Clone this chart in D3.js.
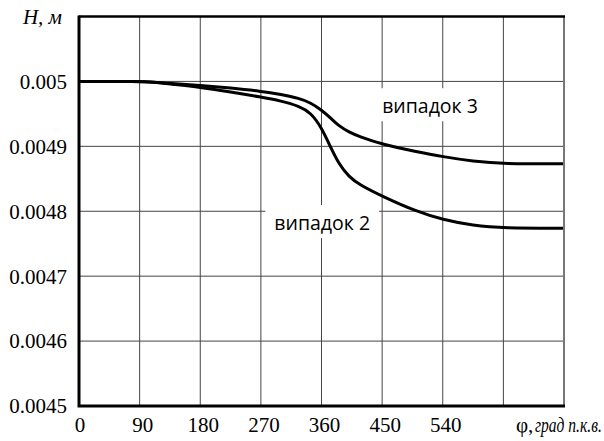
<html>
    <head>
        <style>
            body { margin: 0; background: white; }
            .tick-label { font-family: "Liberation Serif", "Times New Roman", serif; font-size: 21px; fill: black; }
            .case-label { font-family: "Open Sans"; font-size: 19.5px; fill: black; }
        </style>
        <script src="https://d3js.org/d3.v7.min.js"></script>
    </head>
    <body>
        <svg width="604" height="441"></svg>
        <script>
            // crank angle, deg
            let phi = [0, 90, 110, 135, 180, 225, 270, 300, 327, 344, 360, 372, 386, 401, 416, 450, 500, 540, 585, 630, 720]
            // H, m
            let case3 = [0.005, 0.005, 0.004999, 0.004997, 0.004994, 0.00499, 0.004985, 0.00498, 0.004974, 0.004967, 0.004956, 0.004945, 0.004931, 0.004922, 0.004915, 0.004903, 0.004892, 0.004884, 0.004877, 0.004873, 0.004873]
            let case2 = [0.005, 0.005, 0.004999, 0.004996, 0.004991, 0.004984, 0.004976, 0.00497, 0.004962, 0.004952, 0.004929, 0.004902, 0.004872, 0.004853, 0.004841, 0.004823, 0.0048, 0.004787, 0.004778, 0.004774, 0.004774]

            let xTicks = [0, 90, 180, 270, 360, 450, 540, 630, 720]
            let xLabels = ["0", "90", "180", "270", "360", "450", "540"]
            let yTicks = [0.0045, 0.0046, 0.0047, 0.0048, 0.0049, 0.005, 0.0051]
            let yLabels = ["0.0045", "0.0046", "0.0047", "0.0048", "0.0049", "0.005"]

            let svg = d3.select("svg")

            let xScale = d3.scaleLinear().domain([0, 720]).range([79, 564]),
                yScale = d3.scaleLinear().domain([0.0045, 0.0051]).range([406, 16.5])

            // grid
            svg.append("g").selectAll("line")
                .data(xTicks.slice(1, -1))
                .enter().append("line")
                .attr("x1", d => xScale(d)).attr("x2", d => xScale(d))
                .attr("y1", yScale(0.0051)).attr("y2", yScale(0.0045))
                .attr("stroke", "#444").attr("stroke-width", 1)

            svg.append("g").selectAll("line")
                .data(yTicks.slice(1, -1))
                .enter().append("line")
                .attr("x1", xScale(0)).attr("x2", xScale(720))
                .attr("y1", d => yScale(d)).attr("y2", d => yScale(d))
                .attr("stroke", "#444").attr("stroke-width", 1)

            // curve labels on white patches
            let labels = [
                {text: "випадок 3", phi: 450, h: 0.004951},
                {text: "випадок 2", phi: 290, h: 0.004771}
            ]
            labels.forEach(function(l) {
                let g = svg.append("g")
                let t = g.append("text")
                    .attr("class", "case-label")
                    .attr("x", xScale(l.phi))
                    .attr("y", yScale(l.h))
                    .text(l.text)
                let b = t.node().getBBox()
                g.insert("rect", "text")
                    .attr("x", b.x - 9).attr("y", b.y - 4)
                    .attr("width", b.width + 18).attr("height", b.height + 6)
                    .attr("fill", "white")
            })

            // curves
            let line = d3.line()
                .x((d, i) => xScale(phi[i]))
                .y(d => yScale(d))
                .curve(d3.curveBasis)

            svg.append("path").datum(case3)
                .attr("d", line).attr("fill", "none")
                .attr("stroke", "black").attr("stroke-width", 3)
            svg.append("path").datum(case2)
                .attr("d", line).attr("fill", "none")
                .attr("stroke", "black").attr("stroke-width", 3)

            // frame
            svg.append("line")
                .attr("x1", xScale(720)).attr("x2", xScale(720))
                .attr("y1", yScale(0.0051)).attr("y2", yScale(0.0045))
                .attr("stroke", "#777").attr("stroke-width", 2)
            svg.append("line")
                .attr("x1", xScale(0)).attr("x2", xScale(720) + 1)
                .attr("y1", yScale(0.0051)).attr("y2", yScale(0.0051))
                .attr("stroke", "black").attr("stroke-width", 2.5)
            svg.append("path")
                .attr("d", "M" + xScale(0) + "," + (yScale(0.0051) - 1) + "V" + yScale(0.0045) + "H" + (xScale(720) + 1))
                .attr("fill", "none").attr("stroke", "black").attr("stroke-width", 3)

            // tick labels
            svg.append("g").selectAll("text")
                .data(yLabels)
                .enter().append("text")
                .attr("class", "tick-label")
                .attr("x", 67)
                .attr("y", d => yScale(+d))
                .attr("dy", "0.35em")
                .attr("text-anchor", "end")
                .text(d => d)

            svg.append("g").selectAll("text")
                .data(xLabels)
                .enter().append("text")
                .attr("class", "tick-label")
                .attr("x", d => xScale(+d) + (d == "0" ? 1 : 3))
                .attr("y", 432)
                .attr("text-anchor", "middle")
                .text(d => d)

            // axis title, narrowed to fit like the original
            svg.append("text")
                .attr("class", "tick-label")
                .attr("x", 516)
                .attr("y", 432)
                .attr("font-size", 20)
                .text("φ,")
            svg.append("text")
                .attr("class", "tick-label")
                .attr("transform", "translate(535,432) scale(0.74,1)")
                .attr("font-size", 20)
                .attr("font-style", "italic")
                .text("град п.к.в.")

            svg.append("text")
                .attr("class", "tick-label")
                .attr("x", 62)
                .attr("y", 24)
                .attr("text-anchor", "end")
                .attr("font-style", "italic")
                .text("H, м")
        </script>
    </body>
</html>
